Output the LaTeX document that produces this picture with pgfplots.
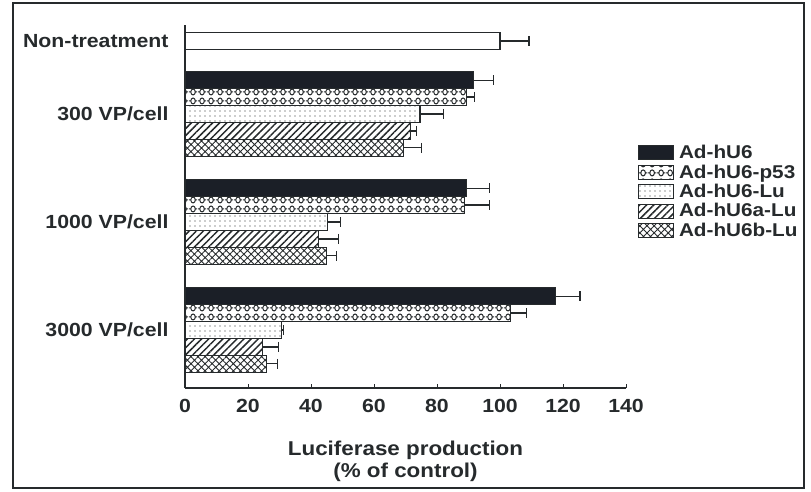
\documentclass[border=0pt]{standalone}
\usepackage{fontspec}
\setmainfont{Liberation Sans}[FakeStretch=1.12]
\usepackage{pgfplots}
\pgfplotsset{compat=1.18}
\usetikzlibrary{patterns.meta}
\definecolor{ink}{HTML}{262A2C}
\definecolor{barblack}{HTML}{1B1F27}

\tikzdeclarepattern{
  name=chain, type=uncolored,
  bottom left={(0pt,0pt)}, top right={(9pt,8.5pt)}, tile size={(9pt,8.5pt)},
  code={
    \draw[line width=1.1pt] (4.5pt,4.25pt) ellipse [x radius=2.5pt, y radius=3.1pt];
    \draw[line width=1.1pt] (0pt,4.25pt) -- (2pt,4.25pt);
    \draw[line width=1.1pt] (7pt,4.25pt) -- (9pt,4.25pt);
  }
}

\begin{document}
\begin{tikzpicture}
\path[use as bounding box] (0,0) rectangle (811pt,491pt);
\draw[ink, line width=1.3pt] (13pt,3pt) rectangle (804pt,488pt);
\begin{axis}[
  at={(185pt,103pt)}, anchor=south west,
  scale only axis, width=441pt, height=363pt,
  xbar, bar width=0.157,
  xmin=0, xmax=140, ymin=-0.537, ymax=2.824,
  axis x line=bottom, axis y line=left,
  axis line style={-, ink, line width=1.2pt},
  xtick={0,20,...,140}, tick align=inside, major tick length=4pt,
  xtick style={ink, line width=1pt},
  ytick={0,1,2,2.676},
  yticklabels={3000 VP/cell,1000 VP/cell,300 VP/cell,Non-treatment},
  ytick style={draw=none},
  yticklabel style={xshift=-13pt},
  xticklabel style={yshift=-8pt},
  /pgf/number format/assume math mode=true,
  tick label style={font=\bfseries\fontsize{19}{19}\selectfont, text=ink},
  y tick label style={font=\bfseries\fontsize{19}{19}\selectfont, text=ink},
  xlabel={Luciferase production\\(\% of control)},
  xlabel style={align=center, font=\bfseries\fontsize{20}{22}\selectfont, text=ink, yshift=-21pt},
  every axis plot/.append style={draw=ink, line width=1.1pt},
  error bars/error bar style={ink, line width=1.1pt},
  error bars/error mark options={ink, line width=1.1pt, mark size=5pt, rotate=90},
  legend style={draw=none, fill=none, at={(1.02,0.68)}, anchor=north west,
    font=\bfseries\fontsize{18.5}{18.5}\selectfont, text=ink, row sep=0.5pt,
    nodes={inner xsep=5pt}},
  legend cell align=left,
  legend image code/.code={\draw[#1, line width=1pt] (0pt,-7pt) rectangle (35pt,7pt);},
]
\addplot[fill=barblack, bar shift=0.314, error bars/.cd, x dir=plus, x explicit]
  coordinates {(91.7,2) +- (6.3,0) (89.4,1) +- (7.4,0) (117.7,0) +- (7.7,0)};
\addlegendentry{Ad-hU6}
\addplot[pattern=chain, pattern color=ink, bar shift=0.157, error bars/.cd, x dir=plus, x explicit]
  coordinates {(89.5,2) +- (2.5,0) (88.7,1) +- (8.1,0) (103.2,0) +- (5.3,0)};
\addlegendentry{Ad-hU6-p53}
\addplot[pattern={Dots[distance=5pt, radius=0.6pt]}, pattern color=ink, bar shift=0, error bars/.cd, x dir=plus, x explicit]
  coordinates {(74.6,2) +- (7.4,0) (45.2,1) +- (4.2,0) (30.7,0) +- (0.5,0)};
\addlegendentry{Ad-hU6-Lu}
\addplot[pattern={Lines[angle=45, distance=5pt, line width=1.5pt]}, pattern color=ink, bar shift=-0.157, error bars/.cd, x dir=plus, x explicit]
  coordinates {(71.6,2) +- (1.9,0) (42.3,1) +- (6.4,0) (24.5,0) +- (5.1,0)};
\addlegendentry{Ad-hU6a-Lu}
\addplot[pattern={Hatch[angle=45, distance=5pt, line width=0.9pt]}, pattern color=ink, bar shift=-0.314, error bars/.cd, x dir=plus, x explicit]
  coordinates {(69.3,2) +- (5.7,0) (44.8,1) +- (3.3,0) (25.9,0) +- (3.4,0)};
\addlegendentry{Ad-hU6b-Lu}
\addplot[fill=white, bar shift=0, forget plot, error bars/.cd, x dir=plus, x explicit]
  coordinates {(100,2.676) +- (9.2,0)};
\end{axis}
\end{tikzpicture}
\end{document}
